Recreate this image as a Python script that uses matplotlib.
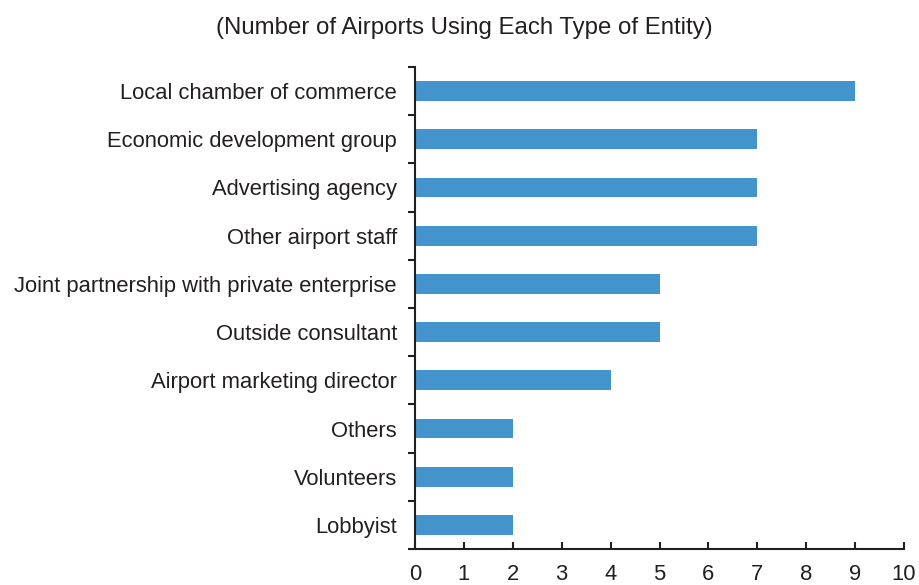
import numpy as np
import matplotlib.pyplot as plt

plt.rcParams['font.family'] = ['Liberation Sans', 'DejaVu Sans']

# Categories listed from top to bottom
categories = ['Local chamber of commerce', 'Economic development group',
              'Advertising agency', 'Other airport staff',
              'Joint partnership with private enterprise', 'Outside consultant',
              'Airport marketing director', 'Others', 'Volunteers', 'Lobbyist']
counts = [9, 7, 7, 7, 5, 5, 4, 2, 2, 2]
x_ticks = list(range(0, 11))

fig = plt.figure(figsize=(9.19, 5.85), dpi=100)
ax = fig.add_axes([0.4516, 0.0615, 0.5321, 0.824])

y = np.arange(len(categories))[::-1]
ax.barh(y, counts, height=0.41, color='#4394CD')

ax.set_xlim(0, 10)
ax.set_ylim(-0.5, len(categories) - 0.5)
ax.set_xticks(x_ticks)
ax.set_yticks(y)
ax.set_yticklabels(categories, fontsize=15.8, color='#231f20')
ax.set_yticks(np.arange(-0.5, len(categories), 1.0), minor=True)
ax.tick_params(axis='y', which='major', length=0, pad=13)
ax.tick_params(axis='y', which='minor', length=5, width=1.5, direction='out', color='#231f20')
ax.tick_params(axis='x', length=5, width=1.5, direction='in', labelsize=15.8,
               pad=11, color='#231f20', labelcolor='#231f20')

for side in ['top', 'right']:
    ax.spines[side].set_visible(False)
for side in ['left', 'bottom']:
    ax.spines[side].set_linewidth(1.5)
    ax.spines[side].set_color('#231f20')

fig.text(0.505, 0.952, '(Number of Airports Using Each Type of Entity)',
         ha='center', va='center', fontsize=17.3, color='#231f20')

fig.savefig('out.png', dpi=100)
